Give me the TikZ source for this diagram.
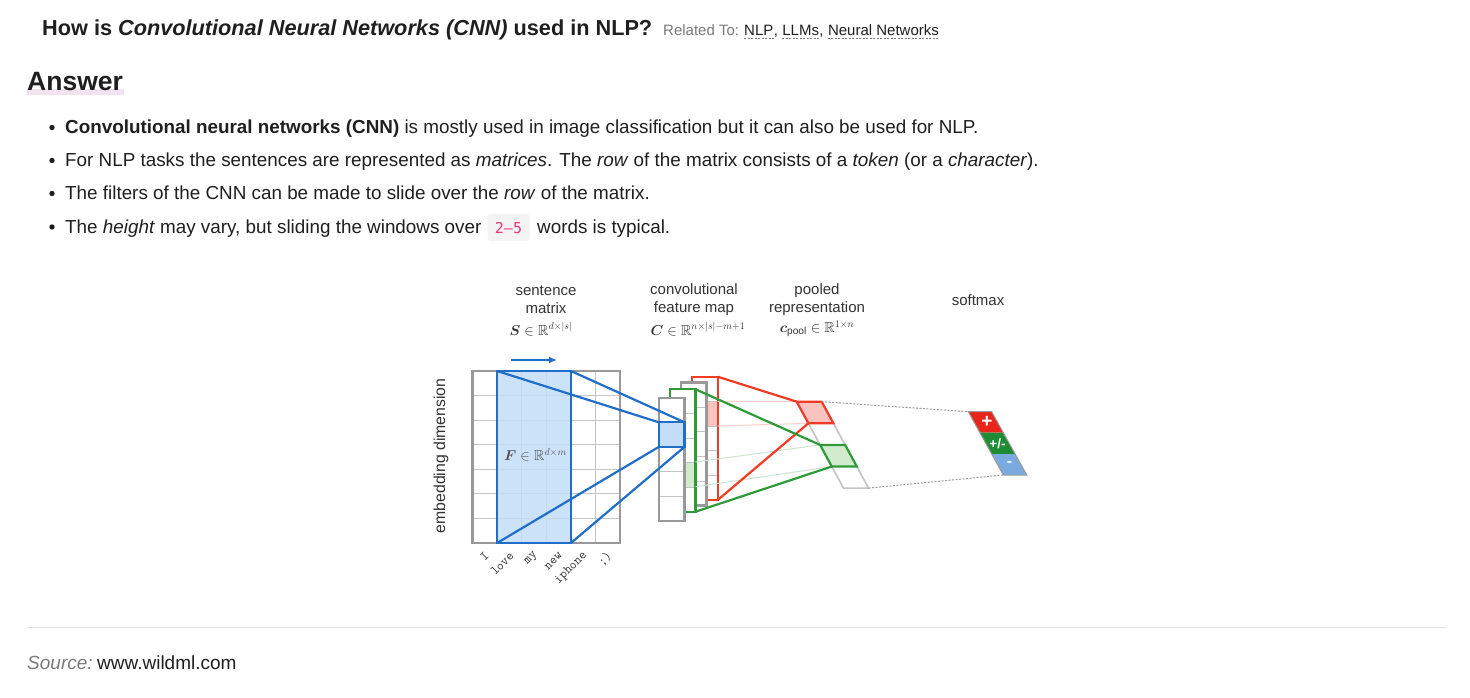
\documentclass[tikz,border=0pt]{standalone}
\usepackage{amsmath,amssymb,bm}
\usepackage{fontspec}
\setmainfont{Liberation Sans}
\newfontfamily\codefont{DejaVu Sans Mono}
\usetikzlibrary{arrows.meta}
\definecolor{txt}{HTML}{1F1F1F}
\definecolor{lbl}{HTML}{333333}
\definecolor{relgray}{HTML}{7A7A7A}
\definecolor{pinkbar}{HTML}{F2E2F0}
\definecolor{codepink}{HTML}{E8367F}
\definecolor{codebg}{HTML}{F4F4F4}
\definecolor{rulegray}{HTML}{E2E2E2}
\definecolor{mgray}{HTML}{999999}
\definecolor{lgray}{HTML}{C4C4C4}
\definecolor{fblue}{HTML}{1F6EC9}
\definecolor{lblue}{HTML}{C4DDF8}
\definecolor{fred}{HTML}{F03C24}
\definecolor{lred}{HTML}{F9C3BF}
\definecolor{fgreen}{HTML}{2E9A3A}
\definecolor{lgreen}{HTML}{D3EBCD}
\definecolor{smred}{HTML}{E8261C}
\definecolor{smgreen}{HTML}{1E8C34}
\definecolor{smblue}{HTML}{7AAADE}
\tikzset{
  body/.style={anchor=base west, inner sep=0pt, text=txt, font=\fontsize{18.85}{22}\selectfont},
  tag/.style={anchor=base west, inner sep=0pt, text=txt, font=\fontsize{15}{17}\selectfont},
  dlabel/.style={align=center, inner sep=0pt, text=lbl, font=\fontsize{15}{18}\selectfont},
  mlabel/.style={inner sep=0pt, text=lbl, font=\fontsize{14.5}{16}\selectfont},
  word/.style={inner sep=0pt, anchor=east, rotate=45, text=lbl, font=\fontsize{13}{14}\ttfamily},
  thickgray/.style={draw=mgray, line width=2.4pt},
  gridline/.style={draw=lgray, line width=0.8pt},
  bluel/.style={draw=fblue, line width=2.2pt},
  redl/.style={draw=fred, line width=2.2pt},
  greenl/.style={draw=fgreen, line width=2.2pt},
  dotl/.style={draw=mgray, line width=1pt, dash pattern=on 2pt off 1.5pt},
  faintred/.style={draw=fred!25, line width=1pt},
  faintgreen/.style={draw=fgreen!25, line width=1pt},
  bul/.style={fill=txt},
}
\begin{document}
\begin{tikzpicture}[x=1pt,y=-1pt]
\useasboundingbox (0,0) rectangle (1470,698);
\fill[white] (0,0) rectangle (1470,698);

% ---------- title ----------
\node[anchor=base west, inner sep=0pt, text=txt, font=\fontsize{21.7}{24}\selectfont\bfseries] (title) at (42,35.5)
  {How is \textit{Convolutional Neural Networks (CNN)} used in NLP?};
\node[anchor=base west, inner sep=0pt, text=relgray, font=\fontsize{15}{17}\selectfont] (rel) at (663,35.5) {Related To:};
\node[tag] (t1) at (744,35.5) {NLP};
\node[tag] (c1) at (t1.base east) {,};
\node[tag] (t2) at ([xshift=4pt]c1.base east) {LLMs};
\node[tag] (c2) at (t2.base east) {,};
\node[tag] (t3) at ([xshift=4pt]c2.base east) {Neural Networks};
\foreach \t in {t1,t2,t3}
  \draw[dotl, draw=relgray] ([yshift=-3pt]\t.south west) -- ([yshift=-3pt]\t.south east);

% ---------- Answer ----------
\fill[pinkbar] (27,89) rectangle (124,95);
\node[anchor=base west, inner sep=0pt, text=txt, font=\fontsize{26.5}{30}\selectfont\bfseries] (ans) at (27,91) {Answer};

% ---------- bullets ----------
\fill[bul] (52,127.5) circle (2.7pt);
\node[body] (b1) at (65,133.5) {\textbf{Convolutional neural networks (CNN)} is mostly used in image classification but it can also be used for NLP.};
\fill[bul] (52,160.5) circle (2.7pt);
\node[body] (b2) at (65,166.5) {For NLP tasks the sentences are represented as \textit{matrices}. The \textit{row} of the matrix consists of a \textit{token} (or a \textit{character}).};
\fill[bul] (52,193.5) circle (2.7pt);
\node[body] (b3) at (65,199.5) {The filters of the CNN can be made to slide over the \textit{row} of the matrix.};
\fill[bul] (52,227) circle (2.7pt);
\node[body] (b4) at (65,233.5) {The \textit{height} may vary, but sliding the windows over};
\fill[codebg, rounded corners=3pt] (487.5,214) rectangle (529.5,241);
\node[anchor=base, inner sep=0pt, text=codepink, font=\fontsize{15}{18}\codefont] (code) at (508.5,233) {2{\char"2013}5};
\node[body] (b5) at (537,233.5) {words is typical.};

% ---------- diagram labels ----------
\node[dlabel] (l1) at (546,300) {sentence\\matrix};
\node[mlabel] (m1) at (541,329) {$\bm{S}\in\mathbb{R}^{d\times|s|}$};
\node[dlabel] (l2) at (694,300) {convolutional\\feature map};
\node[mlabel] (m2) at (698,329) {$\bm{C}\in\mathbb{R}^{n\times|s|-m+1}$};
\node[dlabel] (l3) at (817,300) {pooled\\representation};
\node[mlabel] (m3) at (817,329) {$\bm{c}_{\mathrm{pool}}\in\mathbb{R}^{1\times n}$};
\node[dlabel] (l4) at (978,300) {softmax};
\node[dlabel, rotate=90, font=\fontsize{15.8}{18}\selectfont] (emb) at (441,456) {embedding dimension};

% ---------- sentence matrix ----------
\foreach \i in {1,...,5} \draw[gridline] ({472.5+\i*24.6},371) -- ({472.5+\i*24.6},543);
\foreach \j in {1,...,6} \draw[gridline] (472.5,{371+\j*24.57}) -- (620.1,{371+\j*24.57});
\coordinate (fTL) at (497.1,371);
\coordinate (fTR) at (570.9,371);
\coordinate (fBL) at (497.1,543);
\coordinate (fBR) at (570.9,543);
\fill[lblue, fill opacity=0.85] (fTL) rectangle (fBR);
\draw[thickgray] (472.5,371) rectangle (620.1,543);
\draw[bluel] (fTL) rectangle (fBR);
\node[inner sep=0pt, text=lbl!85, font=\fontsize{14.5}{16}\selectfont] (F) at (535.5,455) {$\bm{F}\in\mathbb{R}^{d\times m}$};
\coordinate (arA) at (511,360);
\coordinate (arB) at (557,360);
\draw[draw=fblue, line width=1.8pt, -{Latex[length=8pt,width=7pt]}] (arA) -- (arB);

% words
\foreach \w [count=\k] in {I,love,my,new,iphone,{;)}}
  \node[word] (w\k) at ({487+(\k-1)*24.6},554) {\w};

% ---------- feature maps (back to front) ----------
% red map
\fill[white] (692.3,376.7) rectangle (717.7,500);
\fill[lred] (692.3,401.4) rectangle (717.7,426);
\foreach \j in {1,...,4} \draw[gridline] (692.3,{376.7+\j*24.66}) -- (717.7,{376.7+\j*24.66});
\draw[redl] (692.3,376.7) rectangle (717.7,500);
\coordinate (rTR) at (717.7,376.7);
\coordinate (rBR) at (717.7,500);
% gray map 2
\fill[white] (681,382.5) rectangle (706.5,505.5);
\foreach \j in {1,...,4} \draw[gridline] (681,{382.5+\j*24.6}) -- (706.5,{382.5+\j*24.6});
\draw[thickgray] (681,382.5) rectangle (706.5,505.5);
% green map
\fill[white] (670,389.3) rectangle (695.5,511.7);
\fill[lgreen] (670,462) rectangle (695.5,486.7);
\foreach \j in {1,...,4} \draw[gridline] (670,{389.3+\j*24.48}) -- (695.5,{389.3+\j*24.48});
\draw[greenl] (670,389.3) rectangle (695.5,511.7);
\coordinate (gTR) at (695.5,389.3);
\coordinate (gBR) at (695.5,511.7);
% gray front map
\fill[white] (658.8,397.7) rectangle (684.5,520.7);
\foreach \j in {1,...,4} \draw[gridline] (658.8,{397.7+\j*24.6}) -- (684.5,{397.7+\j*24.6});
\draw[thickgray] (658.8,397.7) rectangle (684.5,520.7);
\coordinate (sTL) at (658.8,422.3);
\coordinate (sTR) at (684.5,422.3);
\coordinate (sBL) at (658.8,446.9);
\coordinate (sBR) at (684.5,446.9);
\fill[lblue] (sTL) rectangle (sBR);
\draw[bluel] (sTL) rectangle (sBR);

% blue frustum lines
\draw[bluel] (fTL) -- (sTL);
\draw[bluel] (fTR) -- (sTR);
\draw[bluel] (fBL) -- (sBL);
\draw[bluel] (fBR) -- (sBR);

% ---------- pooled representation ----------
\coordinate (p1) at (796.7,401.7);
\coordinate (p2) at (821.7,401.7);
\coordinate (p3) at (808.4,423.3);
\coordinate (p4) at (833.4,423.3);
\coordinate (p5) at (820.1,444.9);
\coordinate (p6) at (845.1,444.9);
\coordinate (p7) at (831.8,466.5);
\coordinate (p8) at (856.8,466.5);
\coordinate (p9) at (843.5,488.1);
\coordinate (p10) at (868.5,488.1);
\draw[draw=lgray, line width=1.6pt] (p1) -- (p9) -- (p10) -- (p2);
\draw[draw=lgray, line width=1.6pt] (p5) -- (p6);
% faint lines
\draw[faintred] (717.7,401.4) -- (p1);
\draw[faintred] (717.7,426) -- (p3);
\draw[faintgreen] (695.5,462) -- (p5);
\draw[faintgreen] (695.5,486.7) -- (p7);
% cells
\fill[lred] (p1) -- (p2) -- (p4) -- (p3) -- cycle;
\draw[redl] (p1) -- (p2) -- (p4) -- (p3) -- cycle;
\fill[lgreen] (p5) -- (p6) -- (p8) -- (p7) -- cycle;
\draw[greenl] (p5) -- (p6) -- (p8) -- (p7) -- cycle;
% strong lines
\draw[redl] (rTR) -- (p1);
\draw[redl] (rBR) -- (p3);
\draw[greenl] (gTR) -- (p5);
\draw[greenl] (gBR) -- (p7);

% ---------- softmax ----------
\coordinate (s1) at (968.3,411.7);
\coordinate (s2) at (991.7,411.7);
\coordinate (s3) at (979.9,432.7);
\coordinate (s4) at (1003.3,432.7);
\coordinate (s5) at (991.7,454);
\coordinate (s6) at (1015.1,454);
\coordinate (s7) at (1003.3,475);
\coordinate (s8) at (1026.7,475);
\draw[dotl] (p2) -- (s1);
\draw[dotl] (p10) -- (s7);
\fill[smred] (s1) -- (s2) -- (s4) -- (s3) -- cycle;
\fill[smgreen] (s3) -- (s4) -- (s6) -- (s5) -- cycle;
\fill[smblue] (s5) -- (s6) -- (s8) -- (s7) -- cycle;
\draw[draw=mgray, line width=1pt] (s1) -- (s2) -- (s8) -- (s7) -- cycle;
\node[inner sep=0pt, text=white, font=\fontsize{19}{18}\selectfont\bfseries] (sp) at (987,422) {+};
\node[inner sep=0pt, text=white, font=\fontsize{13.5}{14}\selectfont\bfseries] (spm) at (997.5,443.5) {+/-};
\node[inner sep=0pt, text=white, font=\fontsize{16}{14}\selectfont\bfseries] (sm) at (1009.5,464) {-};

% ---------- footer ----------
\draw[draw=rulegray, line width=1pt] (27,627) -- (1446,627);
\node[anchor=base west, inner sep=0pt, text=relgray, font=\fontsize{19}{22}\selectfont\itshape] (src) at (27,669.5) {Source:};
\node[anchor=base west, inner sep=0pt, text=txt, font=\fontsize{19}{22}\selectfont] (url) at (97,669.5) {www.wildml.com};
\end{tikzpicture}
\end{document}
